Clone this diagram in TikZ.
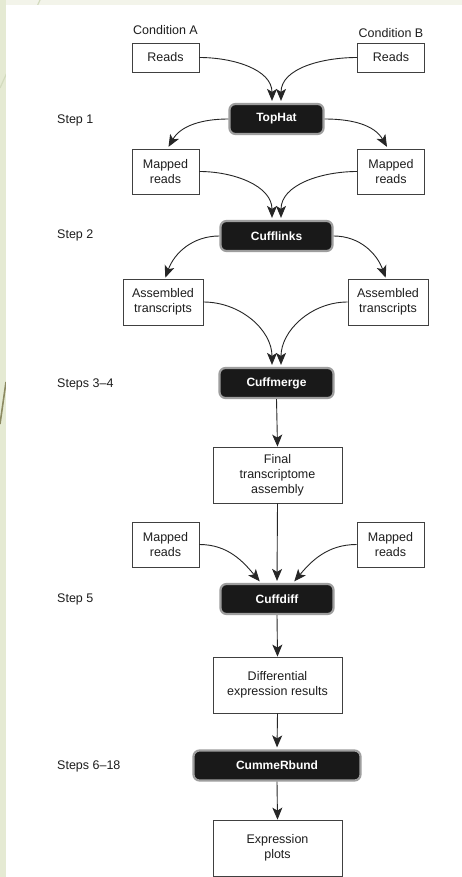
\documentclass[tikz,border=0pt]{standalone}
\usepackage{fontspec}
\setmainfont{Liberation Sans}
\usetikzlibrary{arrows.meta}
\definecolor{stripgreen}{HTML}{E5EAD3}
\definecolor{stripbeige}{HTML}{F3F4EA}
\definecolor{swoosh}{HTML}{D3DBBE}
\definecolor{olive}{HTML}{8C8A62}
\definecolor{ink}{HTML}{1E1E1E}
\tikzset{
  txt/.style={font=\fontsize{12.5}{15}\selectfont, text=ink, inner sep=0pt},
  wbox/.style={txt, draw=black!75, line width=0.8pt, fill=white, align=center,
               minimum width=#1},
  wbox/.default=67pt,
  tool/.style={font=\fontsize{12}{14}\selectfont\bfseries, text=white,
               fill=black!90, draw=black!38, line width=2.2pt,
               rounded corners=6pt, inner sep=0pt, minimum width=#1,
               minimum height=30pt},
  steplabel/.style={txt, anchor=west},
  arr/.style={draw=black!85, line width=0.9pt,
              -{Stealth[length=12pt,width=10pt,inset=3pt]}},
}
\begin{document}
\begin{tikzpicture}[x=1pt,y=-1pt]
  % page background with the green side strip
  \useasboundingbox (0,0) rectangle (462,877);
  \fill[stripgreen] (0,0) rectangle (462,877);
  \fill[stripbeige] (6,0) rectangle (462,5);
  \draw[swoosh, line width=1.2pt] (40,0) -- (0,88);
  \draw[olive, line width=1.6pt] (6,382) -- (0,424);
  \fill[white] (6,5) rectangle (462,877);

  % inputs
  \node[txt] (condA) at (165.5,30) {Condition A};
  \node[txt] (condB) at (391,33) {Condition B};
  \node[wbox, minimum height=29pt] (readsA) at (165.5,57.5) {Reads};
  \node[wbox, minimum height=29pt] (readsB) at (391,57.5) {Reads};

  % step 1
  \node[steplabel] (s1) at (57,120) {Step 1};
  \node[tool=94pt] (tophat) at (276.5,119) {TopHat};
  \node[wbox, minimum height=45pt] (mapA) at (165.5,171.5) {Mapped\\reads};
  \node[wbox, minimum height=45pt] (mapB) at (391,171.5) {Mapped\\reads};

  % step 2
  \node[steplabel] (s2) at (57,235) {Step 2};
  \node[tool=112pt] (cufflinks) at (276.5,236) {Cufflinks};
  \node[wbox=80pt, minimum height=46pt] (asmA) at (163,302) {Assembled\\transcripts};
  \node[wbox=80pt, minimum height=46pt] (asmB) at (388,302) {Assembled\\transcripts};

  % steps 3-4
  \node[steplabel] (s34) at (57,384) {Steps 3–4};
  \node[tool=114pt] (cuffmerge) at (276.5,383) {Cuffmerge};
  \node[wbox=129pt, minimum height=56pt] (final) at (277.5,475) {Final\\transcriptome\\assembly};

  % step 5
  \node[wbox, minimum height=45pt] (mapC) at (165.5,544.5) {Mapped\\reads};
  \node[wbox, minimum height=45pt] (mapD) at (390.5,544.5) {Mapped\\reads};
  \node[steplabel] (s5) at (57,599) {Step 5};
  \node[tool=113pt] (cuffdiff) at (277,599) {Cuffdiff};
  \node[wbox=129pt, minimum height=56pt] (diff) at (277.5,685) {Differential\\expression results};

  % steps 6-18
  \node[steplabel] (s618) at (57,766) {Steps 6–18};
  \node[tool=167pt] (cummer) at (277,765.5) {CummeRbund};
  \node[wbox=129pt, minimum height=56pt] (expr) at (277.5,848) {Expression\\plots};

  % connectors
  \draw[arr, shorten >=2pt] (readsA.east) to[out=0, in=90] ([xshift=-4.5pt]tophat.north);
  \draw[arr, shorten >=2pt] (readsB.west) to[out=180, in=90] ([xshift=4.5pt]tophat.north);
  \draw[arr, shorten >=2pt] (tophat.west) to[out=180, in=60] ([xshift=2pt]mapA.north);
  \draw[arr, shorten >=2pt] (tophat.east) to[out=0, in=120] ([xshift=-3pt]mapB.north);

  \draw[arr, shorten >=2pt] (mapA.east) to[out=0, in=90] ([xshift=-4.5pt]cufflinks.north);
  \draw[arr, shorten >=2pt] (mapB.west) to[out=180, in=90] ([xshift=4.5pt]cufflinks.north);
  \draw[arr, shorten >=1pt] (cufflinks.west) to[out=180, in=70] ([xshift=2pt]asmA.north);
  \draw[arr, shorten >=1pt] (cufflinks.east) to[out=0, in=110] ([xshift=-2pt]asmB.north);

  \draw[arr, shorten >=2pt] (asmA.east) to[out=0, in=90] ([xshift=-4.5pt]cuffmerge.north);
  \draw[arr, shorten >=2pt] (asmB.west) to[out=180, in=90] ([xshift=4.5pt]cuffmerge.north);
  \draw[arr] (cuffmerge.south) -- (final.north);

  \draw[arr, shorten >=2pt] (final.south) -- (cuffdiff.north);
  \draw[arr, shorten >=2pt] (mapC.east) to[out=0, in=130] ([xshift=-16pt]cuffdiff.north);
  \draw[arr, shorten >=2pt] (mapD.west) to[out=180, in=50] ([xshift=16pt]cuffdiff.north);

  \draw[arr] (cuffdiff.south) -- (diff.north);
  \draw[arr, shorten >=2pt] (diff.south) -- (cummer.north);
  \draw[arr] (cummer.south) -- (expr.north);
\end{tikzpicture}
\end{document}
